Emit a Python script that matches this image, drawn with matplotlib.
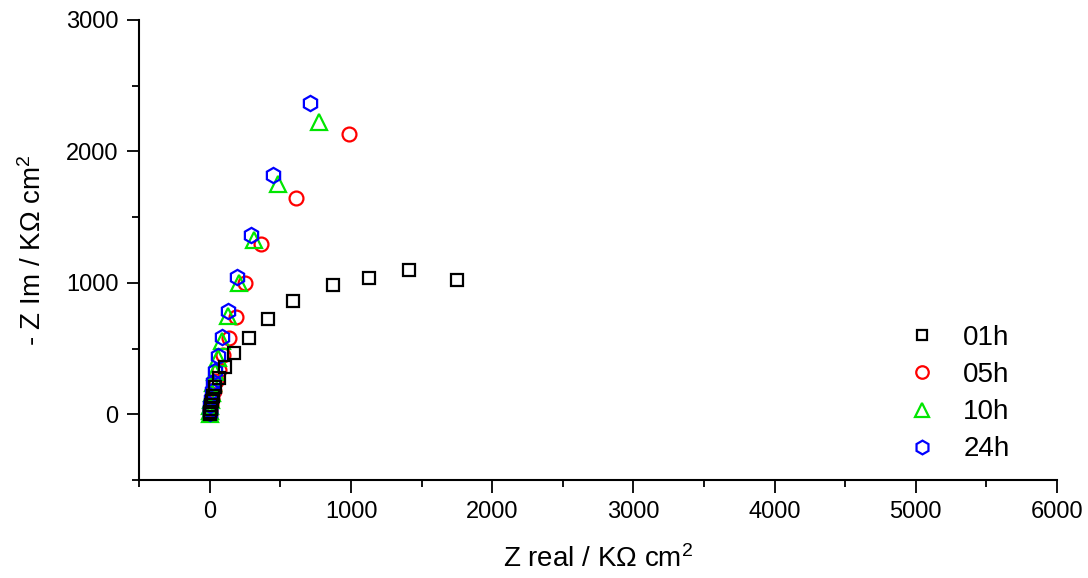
import matplotlib
matplotlib.use("Agg")
import matplotlib.pyplot as plt
from matplotlib.ticker import MultipleLocator

# ---- data ----
labels = ["01h", "05h", "10h", "24h"]

x01 = [1750, 1410, 1125, 870, 587, 413, 274, 168, 109, 67, 38, 24, 15, 9, 5, 2, 0]
y01 = [1020, 1100, 1040, 985, 863, 724, 579, 468, 363, 275, 207, 141, 100, 68, 42, 20, 3]

x05 = [982, 609, 361, 246, 182, 137, 95, 65, 42, 27, 16, 9, 4, 1, 0]
y05 = [2133, 1646, 1297, 1002, 744, 579, 450, 340, 250, 180, 120, 75, 40, 15, 2]

x10 = [772, 484, 311, 206, 125, 85, 55, 35, 22, 13, 7, 3, 1, 0]
y10 = [2227, 1751, 1327, 998, 745, 560, 430, 320, 235, 165, 105, 60, 25, 5]

x24 = [708, 444, 288, 189, 130, 88, 60, 35, 22, 13, 7, 3, 1, 0]
y24 = [2367, 1821, 1365, 1043, 789, 587, 440, 330, 245, 175, 115, 70, 35, 8]

xticks = [0, 1000, 2000, 3000, 4000, 5000, 6000]
yticks = [0, 1000, 2000, 3000]

plt.rcParams['font.family'] = ['Liberation Sans', 'DejaVu Sans']
plt.rcParams['mathtext.fontset'] = 'custom'
plt.rcParams['mathtext.rm'] = 'Liberation Sans'
plt.rcParams['mathtext.default'] = 'regular'

fig = plt.figure(figsize=(10.88, 5.78), dpi=100)
ax = fig.add_axes([139.3 / 1088, 1 - 480 / 578, (1057 - 139.3) / 1088, (480 - 20) / 578])

series = [
    (x01, y01, 's', 'black', 8.6, 5),
    (x05, y05, 'o', '#ff0000', 10.0, 2),
    (x10, y10, '^', '#00e600', 11.0, 3),
    (x24, y24, 'h', '#0000ff', 11.0, 4),
]
for (xs, ys, m, c, ms, z), lab in zip(series, labels):
    ax.plot(xs, ys, linestyle='none', marker=m, markersize=ms,
            markerfacecolor='none', markeredgecolor=c, markeredgewidth=1.6,
            label=lab, zorder=z)

ax.set_xlim(-500, 6000)
ax.set_ylim(-500, 3000)
ax.set_xticks(xticks)
ax.set_yticks(yticks)
ax.xaxis.set_minor_locator(MultipleLocator(500))
ax.yaxis.set_minor_locator(MultipleLocator(500))

for s in ['top', 'right']:
    ax.spines[s].set_visible(False)
for s in ['left', 'bottom']:
    ax.spines[s].set_linewidth(1.5)

ax.tick_params(which='major', direction='out', length=9, width=1.3, labelsize=17, pad=6)
ax.tick_params(which='minor', direction='out', length=5, width=1.3)

ax.set_xlabel('Z real / K\u03a9 cm$^{2}$', fontsize=20, labelpad=16)
ax.set_ylabel('- Z Im / K\u03a9 cm$^{2}$', fontsize=20, labelpad=14)

leg = ax.legend(loc='upper left', bbox_to_anchor=(0.810, 0.361), frameon=False,
                fontsize=20, handletextpad=0.5, labelspacing=0.4,
                markerscale=0.9, borderaxespad=0)

fig.savefig('out.png', dpi=100)
